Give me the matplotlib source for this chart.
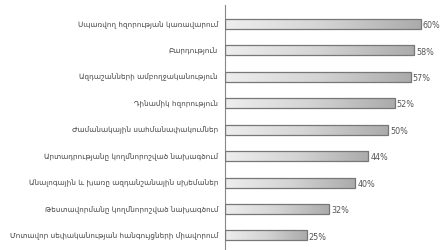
import numpy as np
import matplotlib
matplotlib.use("Agg")
import matplotlib.pyplot as plt
from matplotlib.colors import LinearSegmentedColormap

#-------data-------
labels = [
    "Սպառվող հզորության կառավարում",
    "Բարդություն",
    "Ազդաշանների ամբողջականություն",
    "Դինամիկ հզորություն",
    "Ժամանակային սահմանափակումներ",
    "Արտադրությանը կողմնորոշված նախագծում",
    "Անալոգային և խառը ազդանշանային սխեմաներ",
    "Թեստավորմանը կողմնորոշված նախագծում",
    "Մոտավոր սեփականության հանգույցների միավորում",
]
values = [60, 58, 57, 52, 50, 44, 40, 32, 25]

#-------graph-------
plt.rcParams['font.family'] = ['DejaVu Sans', 'Noto Sans']
fig = plt.figure(figsize=(4.42, 2.5), dpi=100)
ax = fig.add_axes([0.509, 0.0, 0.487, 0.98])

y = np.arange(len(values))
bar_h = 0.38
bars = ax.barh(y, values, height=bar_h, color="none", edgecolor="#777777",
               linewidth=0.9, zorder=3)

# gradient fill, light on the left and darker on the right
cmap = LinearSegmentedColormap.from_list("g", ["#eeeeee", "#d4d4d4", "#ababab"])
grad = np.linspace(0, 1, 256).reshape(1, -1)
for b, v in zip(bars, values):
    im = ax.imshow(grad, cmap=cmap, aspect="auto", zorder=2,
                   extent=[0, v, b.get_y() + b.get_height(), b.get_y()])
    im.set_clip_path(b)

for yi, v in zip(y, values):
    ax.text(v + 0.6, yi + 0.06, f"{v}%", va="center", ha="left",
            fontsize=5.8, color="#555555")

ax.set_xlim(0, 66)
ax.set_ylim(len(values) - 0.45, -0.72)
ax.set_yticks(y)
ax.set_yticklabels(labels, fontsize=5.2, color="#444444")
ax.tick_params(axis="y", length=0, pad=5)
ax.set_xticks([])
for s in ["top", "right", "bottom"]:
    ax.spines[s].set_visible(False)
ax.spines["left"].set_color("#888888")
ax.spines["left"].set_linewidth(0.8)

fig.savefig("out.png", dpi=100)
